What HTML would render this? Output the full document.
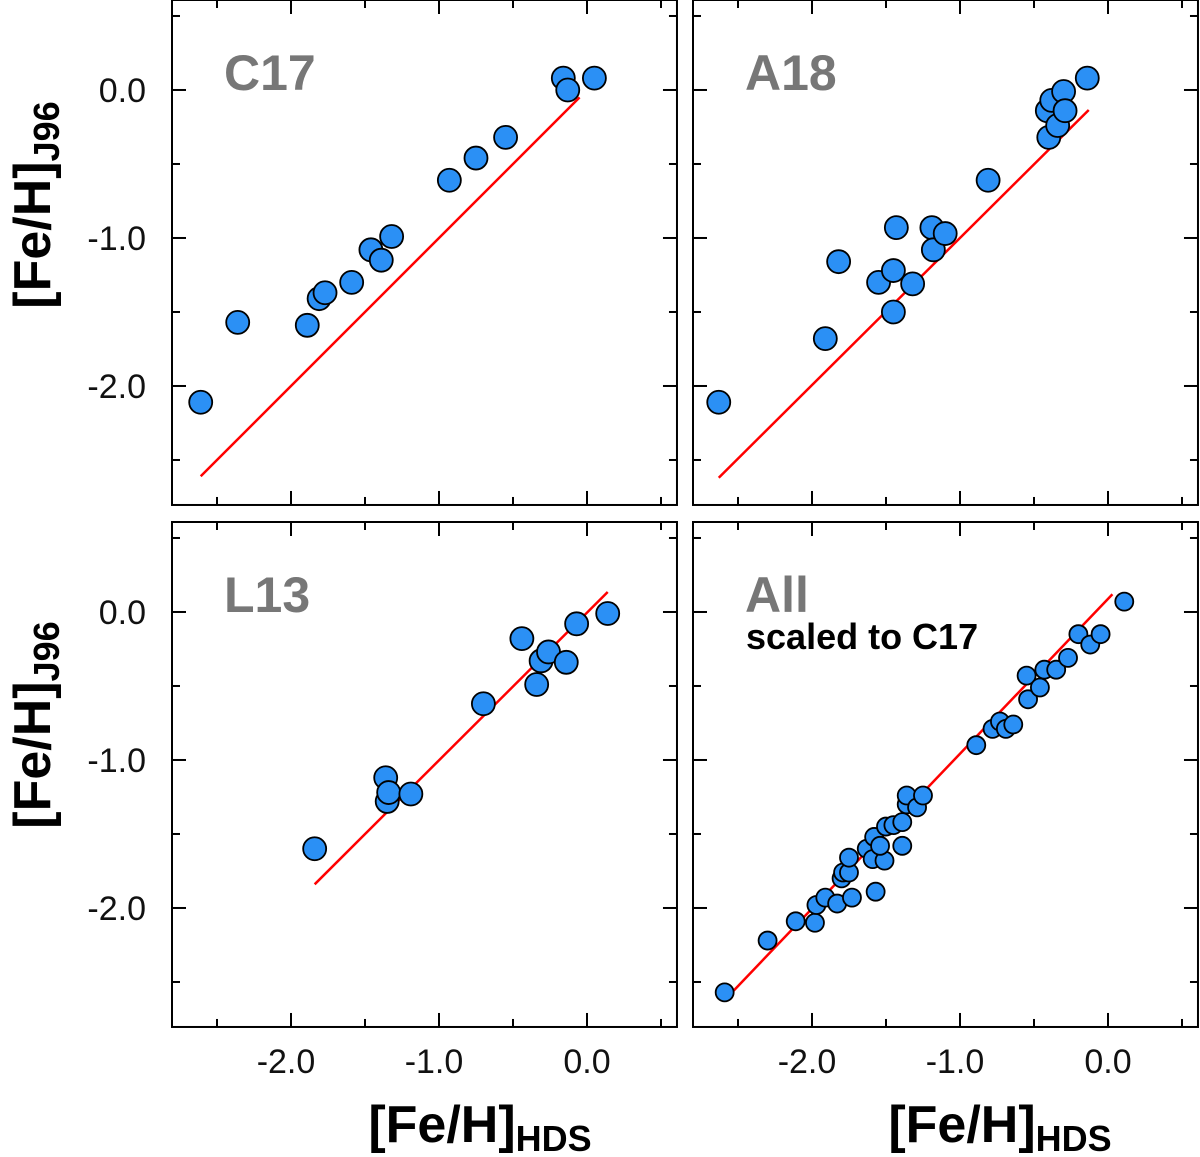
<!DOCTYPE html>
<html><head><meta charset="utf-8"><style>
html,body{margin:0;padding:0;background:#fff;}
svg{display:block;font-family:"Liberation Sans",Arial,sans-serif;}
</style></head><body>
<svg id="fig" width="1200" height="1157" viewBox="0 0 1200 1157"></svg>
<script>
// ---- data ----
const c17X = [-2.61,-2.36,-1.89,-1.81,-1.77,-1.59,-1.46,-1.39,-1.32,-0.93,-0.75,-0.55,-0.16,-0.13,0.05];
const c17Y = [-2.11,-1.57,-1.59,-1.41,-1.37,-1.30,-1.08,-1.15,-0.99,-0.61,-0.46,-0.32,0.08,0.0,0.08];
const a18X = [-2.63,-1.91,-1.82,-1.55,-1.45,-1.45,-1.43,-1.32,-1.19,-1.18,-1.10,-0.81,-0.40,-0.41,-0.38,-0.34,-0.30,-0.29,-0.14];
const a18Y = [-2.11,-1.68,-1.16,-1.30,-1.50,-1.22,-0.93,-1.31,-0.93,-1.08,-0.97,-0.61,-0.32,-0.14,-0.07,-0.24,-0.01,-0.14,0.08];
const l13X = [-1.84,-1.36,-1.35,-1.34,-1.19,-0.70,-0.44,-0.34,-0.31,-0.26,-0.14,-0.07,0.14];
const l13Y = [-1.60,-1.12,-1.28,-1.22,-1.23,-0.62,-0.18,-0.49,-0.33,-0.27,-0.34,-0.08,-0.01];
const allX = [-2.59,-2.30,-2.11,-1.98,-1.97,-1.91,-1.83,-1.73,-1.57,-1.80,-1.79,-1.75,-1.75,-1.63,-1.59,-1.51,-1.58,-1.54,-1.39,-1.50,-1.45,-1.39,-1.36,-1.36,-1.29,-1.25,-0.89,-0.78,-0.73,-0.69,-0.64,-0.55,-0.54,-0.46,-0.43,-0.35,-0.27,-0.20,-0.12,-0.05,0.11];
const allY = [-2.57,-2.22,-2.09,-2.10,-1.98,-1.93,-1.97,-1.93,-1.89,-1.80,-1.76,-1.76,-1.66,-1.60,-1.67,-1.68,-1.52,-1.58,-1.58,-1.45,-1.44,-1.42,-1.30,-1.24,-1.32,-1.24,-0.90,-0.79,-0.74,-0.79,-0.76,-0.43,-0.59,-0.51,-0.39,-0.39,-0.31,-0.15,-0.22,-0.15,0.07];
const lineC17 = [-2.61,-2.61,-0.05,-0.05];
const lineA18 = [-2.63,-2.62,-0.13,-0.135];
const lineL13 = [-1.84,-1.84,0.14,0.135];
const lineAll = [-2.55,-2.58,0.03,0.12];
const tickVals = [-2.0,-1.0,0.0];
const tickLabels = ["-2.0","-1.0","0.0"];
const minorVals = [-2.5,-1.5,-0.5,0.5];

const NS="http://www.w3.org/2000/svg";
const svg=document.getElementById('fig');
function mk(tag,attrs,parent){const e=document.createElementNS(NS,tag);for(const k in attrs)e.setAttribute(k,attrs[k]);(parent||svg).appendChild(e);return e;}

const S=148, VMIN=-2.804, VMAX=0.608;
const panels=[
 {name:'c17',x0:172,y0:0,xs:c17X,ys:c17Y,line:lineC17,r:11.5,label:'C17',left:true,bottom:false},
 {name:'a18',x0:693,y0:0,xs:a18X,ys:a18Y,line:lineA18,r:11.5,label:'A18',left:false,bottom:false},
 {name:'l13',x0:172,y0:522,xs:l13X,ys:l13Y,line:lineL13,r:11.5,label:'L13',left:true,bottom:true},
 {name:'all',x0:693,y0:522,xs:allX,ys:allY,line:lineAll,r:9,label:'All',left:false,bottom:true,sub:'scaled to C17'}
];
panels.forEach(p=>{
  const W=(VMAX-VMIN)*S, H=W;
  const X=v=>p.x0+(v-VMIN)*S;
  const Y=v=>p.y0+(VMAX-v)*S;
  const g=mk('g',{});
  
  
  const fr=mk('rect',{x:p.x0,y:p.y0,width:W,height:H,fill:'none',stroke:'#000','stroke-width':2},g);
  
  
  const all=[...tickVals.map(v=>[v,14]),...minorVals.map(v=>[v,8])];
  all.forEach(([v,L])=>{
    const xx=X(v), yy=Y(v);
    if(xx>p.x0&&xx<p.x0+W){
      mk('line',{x1:xx,y1:p.y0+H,x2:xx,y2:p.y0+H-L,stroke:'#000','stroke-width':2},g);
      mk('line',{x1:xx,y1:p.y0,x2:xx,y2:p.y0+L,stroke:'#000','stroke-width':2},g);
    }
    if(yy>p.y0&&yy<p.y0+H){
      mk('line',{x1:p.x0,y1:yy,x2:p.x0+L,y2:yy,stroke:'#000','stroke-width':2},g);
      mk('line',{x1:p.x0+W,y1:yy,x2:p.x0+W-L,y2:yy,stroke:'#000','stroke-width':2},g);
    }
  });
  tickVals.forEach((v,i)=>{
    if(p.left){
      const t=mk('text',{x:146,y:Y(v)+12,'text-anchor':'end','font-size':34,fill:'#111'},g);
      t.textContent=tickLabels[i];
      
      
    }
    if(p.bottom){
      const t=mk('text',{x:X(v)+(v<0?-5:0),y:1073,'text-anchor':'middle','font-size':34,fill:'#111'},g);
      t.textContent=tickLabels[i];
      
      
    }
  });
  const ln=mk('line',{x1:X(p.line[0]),y1:Y(p.line[1]),x2:X(p.line[2]),y2:Y(p.line[3]),stroke:'#f00','stroke-width':2.5},g);
  
  
  p.xs.forEach((xv,i)=>{
    const c=mk('circle',{cx:X(xv),cy:Y(p.ys[i]),r:p.r,fill:'#2b90f5',stroke:'#000','stroke-width':1.8},g);
    
    
  });
  const lb=mk('text',{x:p.x0+52,y:p.y0+90,'font-size':50,'font-weight':'bold',fill:'#777'},g);
  lb.textContent=p.label;
  
  
  if(p.sub){
    const s=mk('text',{x:p.x0+53,y:p.y0+127,'font-size':36,'font-weight':'bold',fill:'#000'},g);
    s.textContent=p.sub;
    
    
  }
});
[[205,'y-axis-title-top'],[725,'y-axis-title-bottom']].forEach(([cy,n])=>{
  const t=mk('text',{x:0,y:0,'font-size':52,'font-weight':'bold','text-anchor':'middle',transform:`translate(50,${cy}) rotate(-90)`});
  t.innerHTML='[Fe/H]<tspan font-size="36" dy="9">J96</tspan>';
  
  
});
[[480,'x-axis-title-left'],[1000,'x-axis-title-right']].forEach(([cx,n])=>{
  const t=mk('text',{x:cx,y:1142,'font-size':52,'font-weight':'bold','text-anchor':'middle'});
  t.innerHTML='[Fe/H]<tspan font-size="36" dy="9">HDS</tspan>';
  
  
});
</script>
</body></html>
